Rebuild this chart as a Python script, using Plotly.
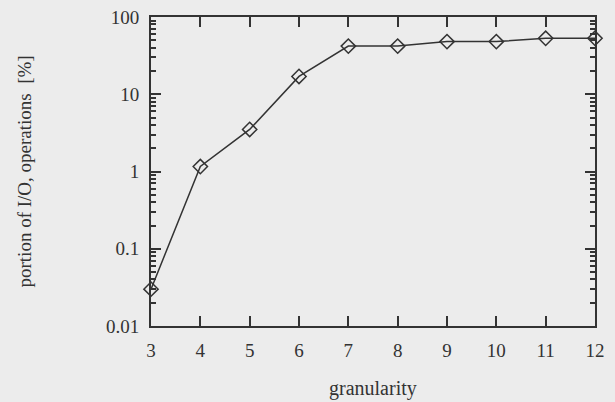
import plotly.graph_objects as go

granularity = [3, 4, 5, 6, 7, 8, 9, 10, 11, 12]
portion_io = [0.03, 1.16, 3.5, 17, 42, 42, 48, 48, 53, 53]

y_tickvals = [0.01, 0.1, 1, 10, 100]
y_ticktext = ["0.01", "0.1", "1", "10", "100"]
x_tickvals = granularity
y_minorvals = [m * d for d in [0.01, 0.1, 1, 10] for m in range(2, 10)]

ink = "#333333"
bg = "#ececec"
family = "Liberation Serif, Times New Roman, serif"
font = dict(family=family, size=19, color=ink)

fig = go.Figure(
    go.Scatter(
        x=granularity,
        y=portion_io,
        mode="lines+markers",
        line=dict(color=ink, width=1.5),
        marker=dict(symbol="diamond-open", size=11, color=ink, line=dict(width=1.5, color=ink)),
        cliponaxis=False,
        showlegend=False,
    )
)

fig.update_layout(
    width=615,
    height=402,
    margin=dict(l=151, r=20, t=17, b=76),
    paper_bgcolor=bg,
    plot_bgcolor=bg,
    font=font,
    annotations=[
        dict(text="portion of I/O, operations  [%]", xref="paper", yref="paper",
             x=0, y=0.5, xanchor="center", yanchor="middle", xshift=-127,
             textangle=-90, showarrow=False, font=dict(family=family, size=19, color=ink)),
        dict(text="granularity", xref="paper", yref="paper",
             x=0.5, y=0, xanchor="center", yanchor="middle", yshift=-62,
             showarrow=False, font=dict(family=family, size=20, color=ink)),
    ],
)

fig.update_xaxes(
    range=[3, 12],
    tickvals=x_tickvals,
    ticks="inside",
    ticklen=10,
    tickwidth=1.5,
    tickcolor=ink,
    showline=True,
    linecolor=ink,
    linewidth=2,
    mirror="allticks",
    showgrid=False,
    zeroline=False,
    automargin=False,
    ticklabeloverflow="allow",
    ticklabelstandoff=6,
)

fig.update_yaxes(
    type="log",
    range=[-2, 2],
    tickvals=y_tickvals,
    ticktext=y_ticktext,
    ticks="inside",
    ticklen=10,
    tickwidth=1.5,
    tickcolor=ink,
    minor=dict(tickvals=y_minorvals, ticks="inside", ticklen=5, tickwidth=1.5,
               tickcolor=ink, showgrid=False),
    showline=True,
    linecolor=ink,
    linewidth=2,
    mirror="allticks",
    showgrid=False,
    zeroline=False,
    automargin=False,
    ticklabeloverflow="allow",
    ticklabelstandoff=6,
)

fig.write_html(
    "out.html",
    config={"displayModeBar": False},
    post_script="document.body.style.margin='0';document.body.style.overflow='hidden';",
)
